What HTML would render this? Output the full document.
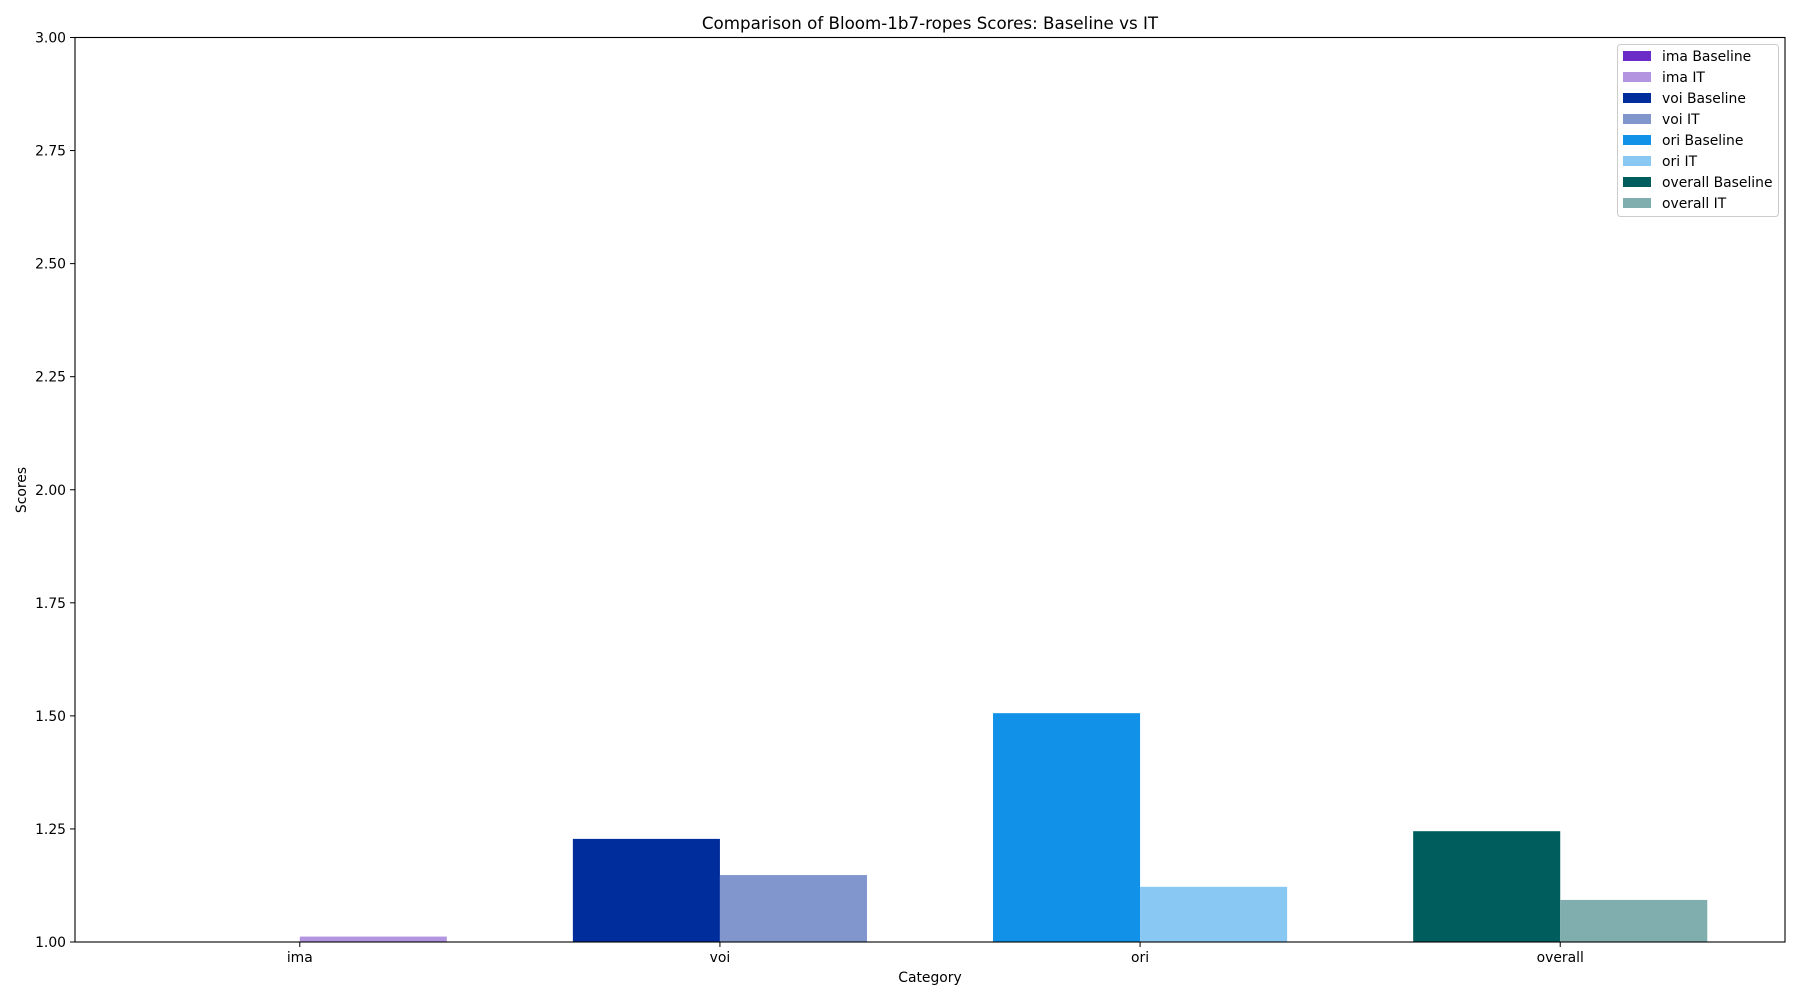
<!DOCTYPE html>
<html><head><meta charset="utf-8"><style>
body{margin:0;background:#fff;}
svg{display:block;font-family:"DejaVu Sans","Liberation Sans",sans-serif;}
</style></head><body>
<svg id="chart" width="1800" height="1000">
<rect width="1800" height="1000" fill="#fff"/>
<text x="930" y="29" font-size="16.7" text-anchor="middle">Comparison of Bloom-1b7-ropes Scores: Baseline vs IT</text>
<g id="plot"></g>
<text x="930" y="982" font-size="13.9" text-anchor="middle">Category</text>
<text transform="translate(26,490) rotate(-90)" font-size="13.9" text-anchor="middle">Scores</text>
<g id="legend"></g>
</svg>
<script>
const categories = ["ima","voi","ori","overall"];
const baselineValues = [1.0, 1.228, 1.506, 1.245];
const itValues = [1.012, 1.148, 1.122, 1.093];
const yTicks = [1.00,1.25,1.50,1.75,2.00,2.25,2.50,2.75,3.00];
const baselineColors = ["#6a2bc6","#002d9c","#1192e8","#005d5d"];
const itColors = ["#b294e0","#8096cd","#88c8f3","#80aeae"];

const L=75,R=1785,T=37.5,B=942;
const xMin=-0.535,xMax=3.535,yMin=1,yMax=3,bw=0.35;
const sx=v=>L+(v-xMin)/(xMax-xMin)*(R-L);
const sy=v=>B-(v-yMin)/(yMax-yMin)*(B-T);
const NS="http://www.w3.org/2000/svg";
const plot=document.getElementById('plot');
function mk(tag,attrs,parent){const e=document.createElementNS(NS,tag);for(const k in attrs)e.setAttribute(k,attrs[k]);(parent||plot).appendChild(e);return e;}

categories.forEach((c,i)=>{
  const b=mk('rect',{x:sx(i-bw),y:sy(baselineValues[i]),width:sx(i)-sx(i-bw),height:sy(1)-sy(baselineValues[i]),fill:baselineColors[i]});
  
  
  const t=mk('rect',{x:sx(i),y:sy(itValues[i]),width:sx(i+bw)-sx(i),height:sy(1)-sy(itValues[i]),fill:itColors[i]});
  
  
  mk('line',{x1:sx(i),x2:sx(i),y1:B,y2:B+5,stroke:'#000','stroke-width':1});
  const lb=mk('text',{x:sx(i),y:B+20,'font-size':13.9,'text-anchor':'middle'});
  lb.textContent=c;
  
  
});
yTicks.forEach(v=>{
  mk('line',{x1:L-5,x2:L,y1:sy(v),y2:sy(v),stroke:'#000','stroke-width':1});
  const t=mk('text',{x:L-9,y:sy(v)+5,'font-size':13.9,'text-anchor':'end'});
  t.textContent=v.toFixed(2);
  
  
});
const fr=mk('rect',{x:L,y:T,width:R-L,height:B-T,fill:'none',stroke:'#000','stroke-width':1.1});



const lg=document.getElementById('legend');
mk('rect',{x:1617.5,y:44.5,width:161,height:172,rx:3,fill:'#fff','fill-opacity':0.8,stroke:'#ccc'},lg);
categories.forEach((c,i)=>{
  [[' Baseline',baselineColors[i]],[' IT',itColors[i]]].forEach((s,j)=>{
    const y=56+(i*2+j)*21;
    mk('rect',{x:1623,y:y-5,width:28,height:10,fill:s[1]},lg);
    const t=mk('text',{x:1662,y:y+5,'font-size':13.9},lg);
    t.textContent=c+s[0];
    
    
  });
});
</script>
</body></html>
